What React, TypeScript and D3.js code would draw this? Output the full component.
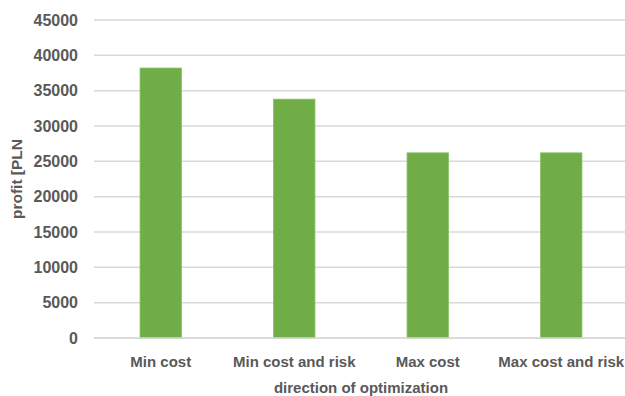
import React from "react";
import * as d3 from "d3";

const categories = ["Min cost", "Min cost and risk", "Max cost", "Max cost and risk"];
const profits = [38200, 33800, 26200, 26200];
const yTicks = [0, 5000, 10000, 15000, 20000, 25000, 30000, 35000, 40000, 45000];

const W = 625;
const H = 396;
const FONT = "'Liberation Sans', Arial, sans-serif";
const TEXT = "#595959";

export default function App() {
  const x = d3.scaleBand<string>().domain(categories).range([94, 628]).paddingInner(0.69).paddingOuter(0.345);
  const y = d3.scaleLinear().domain([0, 45000]).range([338, 20]);

  return (
    <svg width={W} height={H} style={{ position: "absolute", left: 0, top: 0, background: "#fff" }}>
      {yTicks.map((t) => (
        <g key={t}>
          <line x1={94} x2={625} y1={y(t)} y2={y(t)} stroke="#d9d9d9" strokeWidth={1.5} />
          <text x={78} y={y(t)} dy="0.36em" textAnchor="end" fontFamily={FONT} fontWeight={700} fontSize={16} fill={TEXT}>
            {t}
          </text>
        </g>
      ))}
      {categories.map((c, i) => (
        <rect
          key={c}
          x={x(c)}
          y={y(profits[i])}
          width={x.bandwidth()}
          height={y(0) - y(profits[i])}
          fill="#70ad47"
          stroke="#86c060"
          strokeWidth={0.8}
        />
      ))}
      <line x1={94} x2={625} y1={y(0)} y2={y(0)} stroke="#d9d9d9" strokeWidth={1.5} />
      {categories.map((c) => (
        <text key={c} x={(x(c) as number) + x.bandwidth() / 2} y={367} textAnchor="middle" fontFamily={FONT} fontWeight={700} fontSize={15} fill={TEXT}>
          {c}
        </text>
      ))}
      <text x={361} y={393} textAnchor="middle" fontFamily={FONT} fontWeight={700} fontSize={15} fill={TEXT}>
        direction of optimization
      </text>
      <text transform="translate(22,179) rotate(-90)" textAnchor="middle" fontFamily={FONT} fontWeight={700} fontSize={15.5} fill={TEXT}>
        profit [PLN
      </text>
    </svg>
  );
}
